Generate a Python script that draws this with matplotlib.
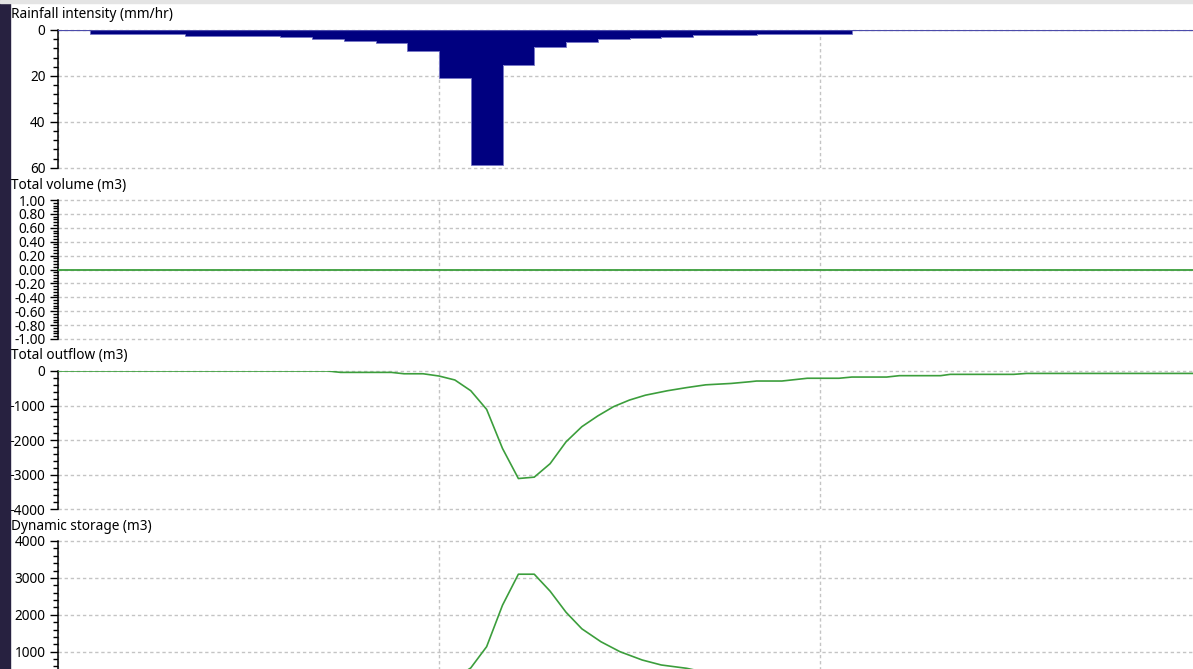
"""Storm event summary: rainfall hyetograph with volume, outflow and storage traces."""
import matplotlib
matplotlib.use('Agg')
import matplotlib.pyplot as plt
from matplotlib.patches import Rectangle
from matplotlib.ticker import MultipleLocator, FixedLocator, FormatStrFormatter

# Rainfall, 5 minute blocks (mm/hr)
rain_step_min = 5
rain_mm_hr = [0, 1.9, 1.9, 1.9, 2.5, 2.5, 2.5, 3.2, 3.9, 4.8, 5.8, 9.3,
              21.0, 59.0, 15.3, 7.5, 5.4, 4.1, 3.6, 3.0, 2.3, 2.3, 1.9, 1.9,
              1.9, 0, 0, 0, 0, 0, 0, 0, 0, 0, 0, 0]
rain_t = [i * rain_step_min for i in range(len(rain_mm_hr))]

# Total volume stays flat at zero
vol_t = [0, 180]
vol_m3 = [0, 0]

# Total outflow (m3)
out_t = [0, 42.5, 44.5, 52.5, 54.5, 57.5, 60, 62.5, 65, 67.5, 70, 72.5, 75,
         77.5, 80, 82.5, 85, 87.5, 90, 92.5, 96, 99, 102, 106, 109, 110, 114,
         118, 123, 125, 130.5, 132.5, 139, 140.5, 150.5, 152.5, 180]
out_m3 = [0, 0, -40, -40, -80, -80, -145, -260, -570, -1110, -2240, -3110,
          -3070, -2680, -2050, -1610, -1300, -1030, -840, -700, -570, -480,
          -400, -360, -310, -290, -290, -210, -210, -175, -175, -135, -135,
          -97, -97, -70, -70]

# Dynamic storage (m3)
sto_t = [0, 42.5, 44.5, 52.5, 54.5, 57.5, 60, 62.5, 65, 67.5, 70, 72.5, 75,
         77.5, 80, 82.5, 85.5, 88.5, 92, 95, 99, 102, 106, 109, 114, 118, 125,
         132.5, 140.5, 152.5, 180]
sto_m3 = [0, 0, 40, 40, 80, 80, 150, 280, 560, 1136, 2260, 3100, 3100, 2640,
          2070, 1620, 1270, 1000, 775, 640, 550, 440, 380, 330, 290, 220, 180,
          140, 100, 70, 70]

W, H = 1193, 669
GREEN = '#3c9e3c'
NAVY = '#000080'
GRID = dict(color='#c4c4c4', linestyle=(0, (2.4, 2.0)), linewidth=1.0)
FONT = 'Noto Sans'
FS = 9.8


def px_box(left, top, right, bottom):
    return [left / W, 1 - bottom / H, (right - left) / W, (bottom - top) / H]


fig = plt.figure(figsize=(W / 100, H / 100), dpi=100, facecolor='white')

# window chrome: dark strip on the left, thin grey bar on top
fig.patches.append(Rectangle((0, 0), 9.5 / W, 1, transform=fig.transFigure,
                             color='#272140', zorder=0))
fig.patches.append(Rectangle((0, 1 - 2.5 / H), 1, 2.5 / H, transform=fig.transFigure,
                             color='#e4e4e4', zorder=0))

panels = [
    ('Rainfall intensity (mm/hr)', 30, 167.7, 15),
    ('Total volume (m3)', 200, 339, 185),
    ('Total outflow (m3)', 371, 509.3, 355),
    ('Dynamic storage (m3)', 541, 688.6, 526),
]

axes = []
for title, top, bottom, ty in panels:
    ax = fig.add_axes(px_box(58, top, 1201, bottom))
    ax.set_xlim(0, 180)
    ax.set_xticks([0, 60, 120, 180])
    ax.tick_params(axis='x', length=0, labelbottom=False)
    for side in ('top', 'right', 'bottom'):
        ax.spines[side].set_visible(False)
    ax.spines['left'].set_linewidth(1.1)
    ax.tick_params(axis='y', which='major', length=6, width=1, direction='out',
                   pad=3, labelsize=FS, colors='black')
    ax.tick_params(axis='y', which='minor', length=3.5, width=1, direction='out')
    ax.grid(True, which='major', **GRID)
    ax.set_axisbelow(True)
    ax.set_facecolor('none')
    fig.text(11 / W, 1 - ty / H, title, fontsize=FS, family=FONT,
             ha='left', va='center', color='black')
    axes.append(ax)

ax_rain, ax_vol, ax_out, ax_sto = axes

# rainfall bars hang down from the top
ax_rain.bar(rain_t, rain_mm_hr, width=rain_step_min, align='edge',
            color=NAVY, linewidth=0, zorder=2)
ax_rain.stairs(rain_mm_hr, rain_t + [rain_t[-1] + rain_step_min],
               color='#7474c4', linewidth=0.7, zorder=2.5)
ax_rain.axhline(0, color='#4c4cab', linewidth=1.6, zorder=3)
ax_rain.set_ylim(60, 0)
ax_rain.yaxis.set_major_locator(MultipleLocator(20))
ax_rain.yaxis.set_minor_locator(MultipleLocator(4))

ax_vol.plot(vol_t, vol_m3, color=GREEN, linewidth=1.3, zorder=3)
ax_vol.set_ylim(-1, 1)
ax_vol.yaxis.set_major_locator(MultipleLocator(0.2))
ax_vol.yaxis.set_minor_locator(MultipleLocator(0.04))
ax_vol.yaxis.set_major_formatter(FormatStrFormatter('%.2f'))

ax_out.plot(out_t, out_m3, color=GREEN, linewidth=1.2, zorder=3)
ax_out.set_ylim(-4000, 0)
ax_out.yaxis.set_major_locator(MultipleLocator(1000))
ax_out.yaxis.set_minor_locator(MultipleLocator(200))

ax_sto.plot(sto_t, sto_m3, color=GREEN, linewidth=1.2, zorder=3)
ax_sto.set_ylim(0, 4000)
# the zero line sits below the window edge
ax_sto.yaxis.set_major_locator(FixedLocator([1000, 2000, 3000, 4000]))
ax_sto.yaxis.set_minor_locator(MultipleLocator(200))

for ax in axes:
    for lab in ax.get_yticklabels():
        lab.set_family(FONT)
    # keep the grid lines on the axis limits fully drawn
    for gl in ax.get_ygridlines():
        gl.set_clip_on(False)

fig.savefig('out.png', dpi=100, facecolor='white')
